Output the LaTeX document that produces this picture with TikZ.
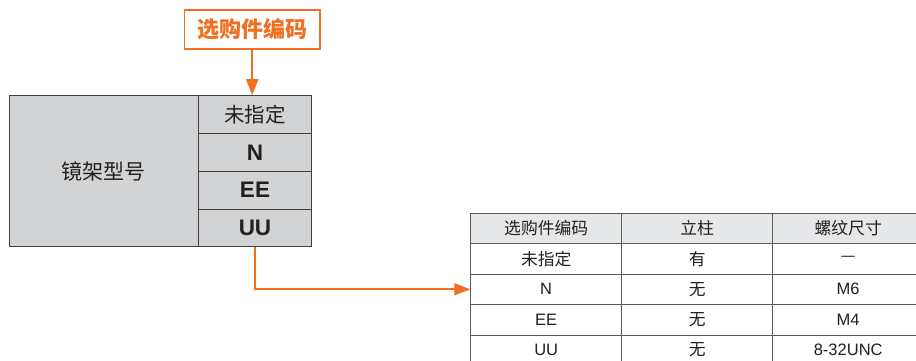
\documentclass[tikz,border=0pt]{standalone}
\usepackage{fontspec}
\setmainfont{Liberation Sans}
\newfontfamily\cjk{Noto Sans CJK SC}
\usetikzlibrary{arrows.meta}
\definecolor{org}{HTML}{F26F21}
\definecolor{txt}{HTML}{231F20}
\definecolor{gfill}{HTML}{D1D3D4}
\definecolor{hfill}{HTML}{E6E7E8}
\definecolor{bline}{HTML}{3F3F3F}
\definecolor{tline}{HTML}{5A5A5A}
\newcommand{\tcj}{\cjk\fontsize{16.8}{18}\selectfont}
\begin{document}
\begin{tikzpicture}[x=1pt,y=-1pt,
  blockbox/.style={draw=bline,line width=0.9pt,fill=gfill,inner sep=0pt,text=txt},
  cellbox/.style={blockbox,minimum width=113.4pt,minimum height=37.75pt},
  titlebox/.style={draw=org,line width=1.6pt,fill=white,inner sep=0pt,minimum width=135.7pt,minimum height=39pt,text=org,font=\cjk\bfseries\fontsize{22}{24}\selectfont},
  tcell/.style={draw=tline,line width=0.8pt,inner sep=0pt,minimum width=151pt,minimum height=30.4pt,text=txt,font=\fontsize{16.5}{18}\selectfont},
  thead/.style={tcell,fill=hfill},
  orarrow/.style={draw=org,line width=1.8pt,-{Triangle[length=16pt,width=12pt]}}
]
\useasboundingbox (0,0) rectangle (916,361);
\clip (0,0) rectangle (916,361);
\fill[white] (0,0) rectangle (916,361);

% title
\node[titlebox] (title) at (252.2,29.5) {选购件编码};

% left block
\node[blockbox,minimum width=189.3pt,minimum height=151pt,font=\cjk\fontsize{21}{23}\selectfont] (model) at (103.65,171.2) {镜架型号};
\node[cellbox,font=\cjk\fontsize{20.5}{22}\selectfont] (c1) at (255,114.575) {未指定};
\node[cellbox,font=\bfseries\fontsize{22.5}{24}\selectfont] (c2) at (255,152.325) {N};
\node[cellbox,font=\bfseries\fontsize{22.5}{24}\selectfont] (c3) at (255,190.075) {EE};
\node[cellbox,font=\bfseries\fontsize{22.5}{24}\selectfont] (c4) at (255,227.825) {UU};

% table
\node[thead] (h1) at (546.2,228.5) {\tcj 选购件编码};
\node[thead] (h2) at (697.2,228.5) {\tcj 立柱};
\node[thead] (h3) at (848.2,228.5) {\tcj 螺纹尺寸};

\node[tcell] (r1a) at (546.2,258.9) {\tcj 未指定};
\node[tcell] (r1b) at (697.2,258.9) {\tcj 有};
\node[tcell] (r1c) at (848.2,258.9) {\tcj —};

\node[tcell] (r2a) at (546.2,289.3) {N};
\node[tcell] (r2b) at (697.2,289.3) {\tcj 无};
\node[tcell] (r2c) at (848.2,289.3) {M6};

\node[tcell] (r3a) at (546.2,319.7) {EE};
\node[tcell] (r3b) at (697.2,319.7) {\tcj 无};
\node[tcell] (r3c) at (848.2,319.7) {M4};

\node[tcell] (r4a) at (546.2,350.1) {UU};
\node[tcell] (r4b) at (697.2,350.1) {\tcj 无};
\node[tcell] (r4c) at (848.2,350.1) {8-32UNC};

% arrows
\draw[orarrow] (title.south) -- (title.south |- c1.north);
\draw[orarrow] (c4.south) -- (c4.south |- r2a.west) -- (r2a.west);
\end{tikzpicture}
\end{document}
